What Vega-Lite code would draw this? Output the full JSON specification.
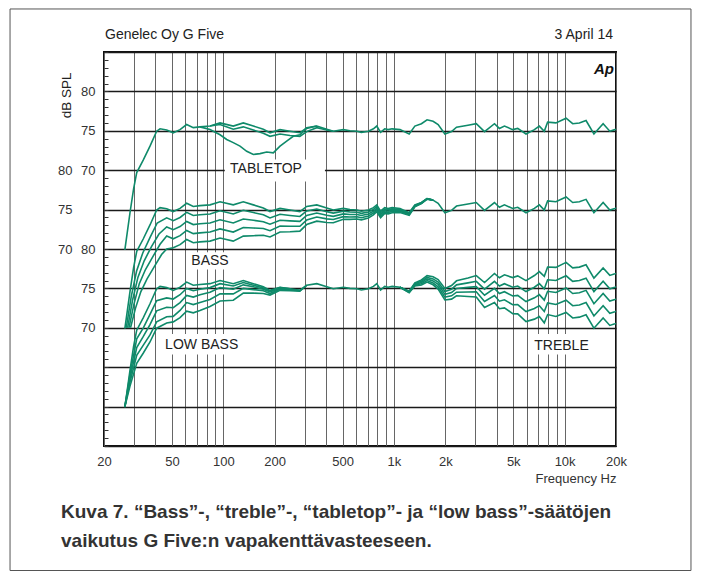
{
"$schema":"https://vega.github.io/schema/vega-lite/v6.json",
"width":512,"height":394,
"autosize":{"type":"none"},
"padding":{"left":104,"top":52,"right":85,"bottom":135},
"background":"white",
"config":{
 "font":"Liberation Sans",
 "view":{"stroke":"#111","strokeWidth":2},
 "axis":{"labelFont":"Liberation Sans","labelFontSize":13,"labelColor":"#333","titleFont":"Liberation Sans","titleFontWeight":"normal","titleColor":"#333","titleFontSize":13,"labelOverlap":false},
 "text":{"font":"Liberation Sans","color":"#222","fontSize":14},
 "line":{"color":"#0f8a6a","strokeWidth":1.6}
},
"datasets":{
"base":[{"f":26.5,"d":59.9},{"f":28.4,"d":64.6},{"f":29.8,"d":67.6},{"f":31.1,"d":69.7},{"f":34.0,"d":71.3},{"f":37.2,"d":73.05},{"f":40.7,"d":74.95},{"f":42.6,"d":75.25},{"f":46.6,"d":75.1},{"f":50.9,"d":74.75},{"f":55.8,"d":75.15},{"f":61.0,"d":75.8},{"f":66.7,"d":75.4},{"f":73.0,"d":75.5},{"f":83.6,"d":75.6},{"f":95.7,"d":76.0},{"f":114.4,"d":75.6},{"f":131,"d":76.0},{"f":150,"d":75.6},{"f":171.6,"d":75.2},{"f":187.8,"d":74.75},{"f":215,"d":75.15},{"f":246,"d":74.95},{"f":281,"d":74.75},{"f":308,"d":75.4},{"f":353,"d":75.6},{"f":404,"d":75.2},{"f":441,"d":74.95},{"f":505,"d":75.15},{"f":552,"d":75.0},{"f":607,"d":74.95},{"f":644,"d":74.8},{"f":708,"d":74.95},{"f":758,"d":75.25},{"f":793,"d":75.6},{"f":835,"d":74.8},{"f":883,"d":75.25},{"f":924,"d":75.15},{"f":975,"d":75.25},{"f":1085,"d":75.15},{"f":1228,"d":74.6},{"f":1326,"d":75.6},{"f":1449,"d":75.9},{"f":1563,"d":76.4},{"f":1695,"d":76.2},{"f":1815,"d":75.8},{"f":1988,"d":74.6},{"f":2175,"d":74.9},{"f":2326,"d":75.45},{"f":2715,"d":75.7},{"f":3036,"d":75.9},{"f":3394,"d":74.9},{"f":3881,"d":75.9},{"f":4148,"d":75.3},{"f":4440,"d":75.6},{"f":4964,"d":75.15},{"f":5310,"d":75.3},{"f":5940,"d":74.6},{"f":6650,"d":75.15},{"f":7110,"d":75.6},{"f":7600,"d":74.95},{"f":7950,"d":76.1},{"f":8890,"d":76.0},{"f":10200,"d":76.6},{"f":11150,"d":75.9},{"f":12200,"d":76.0},{"f":13350,"d":76.3},{"f":14850,"d":74.6},{"f":16810,"d":75.9},{"f":18400,"d":74.95},{"f":19700,"d":75.15},{"f":20000,"d":75.2}],
"tab":[
{"c":"t1","f":83.6,"d":75.6},{"c":"t1","f":95.7,"d":75.8},{"c":"t1","f":114.4,"d":75.2},{"c":"t1","f":131,"d":75.5},{"c":"t1","f":150,"d":75.1},{"c":"t1","f":171.6,"d":74.7},{"c":"t1","f":187.8,"d":74.3},{"c":"t1","f":215,"d":74.6},{"c":"t1","f":246,"d":74.4},{"c":"t1","f":281,"d":74.3},{"c":"t1","f":308,"d":74.9},{"c":"t1","f":353,"d":75.4},{"c":"t1","f":404,"d":75.1},{"c":"t1","f":441,"d":74.95},
{"c":"t2","f":73.0,"d":75.5},{"c":"t2","f":83.6,"d":75.16},{"c":"t2","f":95.7,"d":74.5},{"c":"t2","f":104.7,"d":73.9},{"c":"t2","f":114.4,"d":73.5},{"c":"t2","f":125.3,"d":73.05},{"c":"t2","f":137.2,"d":72.4},{"c":"t2","f":150,"d":72.0},{"c":"t2","f":164.1,"d":72.1},{"c":"t2","f":179.6,"d":72.3},{"c":"t2","f":196.4,"d":72.2},{"c":"t2","f":215,"d":73.05},{"c":"t2","f":235.2,"d":73.7},{"c":"t2","f":257,"d":74.3},{"c":"t2","f":281,"d":74.5},{"c":"t2","f":308,"d":75.3},{"c":"t2","f":353,"d":75.6}],
"bass":[
{"c":"b1","f":27,"d":60},{"c":"b1","f":28.9,"d":64.0},{"c":"b1","f":31.05,"d":67.2},{"c":"b1","f":33.75,"d":69.5},{"c":"b1","f":37.3,"d":71.5},{"c":"b1","f":41,"d":73.3},{"c":"b1","f":46.6,"d":73.95},{"c":"b1","f":50.9,"d":73.6},{"c":"b1","f":55.8,"d":74.0},{"c":"b1","f":61,"d":74.65},{"c":"b1","f":66.7,"d":74.25},{"c":"b1","f":73,"d":74.35},{"c":"b1","f":83.6,"d":74.45},{"c":"b1","f":95.7,"d":74.85},{"c":"b1","f":114.4,"d":74.45},{"c":"b1","f":131,"d":74.91},{"c":"b1","f":150,"d":74.62},{"c":"b1","f":171.6,"d":74.34},{"c":"b1","f":187.8,"d":73.94},{"c":"b1","f":215,"d":74.4},{"c":"b1","f":246,"d":74.26},{"c":"b1","f":281,"d":74.13},{"c":"b1","f":308,"d":74.83},{"c":"b1","f":353,"d":75.08},{"c":"b1","f":404,"d":74.74},{"c":"b1","f":441,"d":74.55},{"c":"b1","f":505,"d":74.8},{"c":"b1","f":552,"d":74.69},{"c":"b1","f":607,"d":74.66},{"c":"b1","f":644,"d":74.52},{"c":"b1","f":708,"d":74.7},{"c":"b1","f":758,"d":75.02},{"c":"b1","f":793,"d":75.38},{"c":"b1","f":835,"d":74.59},{"c":"b1","f":883,"d":75.07},{"c":"b1","f":924,"d":74.98},{"c":"b1","f":975,"d":75.09},{"c":"b1","f":1085,"d":75.02},{"c":"b1","f":1228,"d":74.52},{"c":"b1","f":1326,"d":75.54},{"c":"b1","f":1449,"d":75.87},{"c":"b1","f":1563,"d":76.38},{"c":"b1","f":1695,"d":76.2},
{"c":"b2","f":27.5,"d":60},{"c":"b2","f":29.4,"d":63.5},{"c":"b2","f":31.6,"d":66.4},{"c":"b2","f":34.4,"d":68.5},{"c":"b2","f":37.95,"d":70.3},{"c":"b2","f":42,"d":71.9},{"c":"b2","f":46.6,"d":72.8},{"c":"b2","f":50.9,"d":72.45},{"c":"b2","f":55.8,"d":72.85},{"c":"b2","f":61,"d":73.5},{"c":"b2","f":66.7,"d":73.1},{"c":"b2","f":73,"d":73.2},{"c":"b2","f":83.6,"d":73.3},{"c":"b2","f":95.7,"d":73.7},{"c":"b2","f":114.4,"d":73.3},{"c":"b2","f":131,"d":73.81},{"c":"b2","f":150,"d":73.64},{"c":"b2","f":171.6,"d":73.47},{"c":"b2","f":187.8,"d":73.14},{"c":"b2","f":215,"d":73.65},{"c":"b2","f":246,"d":73.57},{"c":"b2","f":281,"d":73.51},{"c":"b2","f":308,"d":74.25},{"c":"b2","f":353,"d":74.56},{"c":"b2","f":404,"d":74.28},{"c":"b2","f":441,"d":74.14},{"c":"b2","f":505,"d":74.46},{"c":"b2","f":552,"d":74.38},{"c":"b2","f":607,"d":74.37},{"c":"b2","f":644,"d":74.25},{"c":"b2","f":708,"d":74.44},{"c":"b2","f":758,"d":74.79},{"c":"b2","f":793,"d":75.16},{"c":"b2","f":835,"d":74.39},{"c":"b2","f":883,"d":74.88},{"c":"b2","f":924,"d":74.8},{"c":"b2","f":975,"d":74.93},{"c":"b2","f":1085,"d":74.9},{"c":"b2","f":1228,"d":74.44},{"c":"b2","f":1326,"d":75.48},{"c":"b2","f":1449,"d":75.83},{"c":"b2","f":1563,"d":76.37},{"c":"b2","f":1695,"d":76.2},
{"c":"b3","f":28,"d":60},{"c":"b3","f":29.96,"d":63.0},{"c":"b3","f":32.2,"d":65.6},{"c":"b3","f":35,"d":67.4},{"c":"b3","f":38.6,"d":69.0},{"c":"b3","f":42.6,"d":70.6},{"c":"b3","f":46.6,"d":71.65},{"c":"b3","f":50.9,"d":71.3},{"c":"b3","f":55.8,"d":71.7},{"c":"b3","f":61,"d":72.35},{"c":"b3","f":66.7,"d":71.95},{"c":"b3","f":73,"d":72.05},{"c":"b3","f":83.6,"d":72.15},{"c":"b3","f":95.7,"d":72.55},{"c":"b3","f":114.4,"d":72.15},{"c":"b3","f":131,"d":72.72},{"c":"b3","f":150,"d":72.67},{"c":"b3","f":171.6,"d":72.61},{"c":"b3","f":187.8,"d":72.33},{"c":"b3","f":215,"d":72.91},{"c":"b3","f":246,"d":72.88},{"c":"b3","f":281,"d":72.89},{"c":"b3","f":308,"d":73.67},{"c":"b3","f":353,"d":74.05},{"c":"b3","f":404,"d":73.82},{"c":"b3","f":441,"d":73.74},{"c":"b3","f":505,"d":74.11},{"c":"b3","f":552,"d":74.07},{"c":"b3","f":607,"d":74.09},{"c":"b3","f":644,"d":73.97},{"c":"b3","f":708,"d":74.19},{"c":"b3","f":758,"d":74.56},{"c":"b3","f":793,"d":74.94},{"c":"b3","f":835,"d":74.18},{"c":"b3","f":883,"d":74.7},{"c":"b3","f":924,"d":74.63},{"c":"b3","f":975,"d":74.77},{"c":"b3","f":1085,"d":74.77},{"c":"b3","f":1228,"d":74.36},{"c":"b3","f":1326,"d":75.43},{"c":"b3","f":1449,"d":75.8},{"c":"b3","f":1563,"d":76.35},{"c":"b3","f":1695,"d":76.2},
{"c":"b4","f":28.6,"d":60},{"c":"b4","f":30.6,"d":62.5},{"c":"b4","f":32.9,"d":64.6},{"c":"b4","f":35.75,"d":66.2},{"c":"b4","f":39.5,"d":67.8},{"c":"b4","f":43.5,"d":69.3},{"c":"b4","f":46.6,"d":70.0},{"c":"b4","f":50.9,"d":70.15},{"c":"b4","f":55.8,"d":70.55},{"c":"b4","f":61,"d":71.2},{"c":"b4","f":66.7,"d":70.8},{"c":"b4","f":73,"d":70.9},{"c":"b4","f":83.6,"d":71.0},{"c":"b4","f":95.7,"d":71.4},{"c":"b4","f":114.4,"d":71.0},{"c":"b4","f":131,"d":71.63},{"c":"b4","f":150,"d":71.69},{"c":"b4","f":171.6,"d":71.75},{"c":"b4","f":187.8,"d":71.53},{"c":"b4","f":215,"d":72.16},{"c":"b4","f":246,"d":72.19},{"c":"b4","f":281,"d":72.27},{"c":"b4","f":308,"d":73.1},{"c":"b4","f":353,"d":73.53},{"c":"b4","f":404,"d":73.36},{"c":"b4","f":441,"d":73.34},{"c":"b4","f":505,"d":73.77},{"c":"b4","f":552,"d":73.76},{"c":"b4","f":607,"d":73.8},{"c":"b4","f":644,"d":73.7},{"c":"b4","f":708,"d":73.94},{"c":"b4","f":758,"d":74.33},{"c":"b4","f":793,"d":74.73},{"c":"b4","f":835,"d":73.97},{"c":"b4","f":883,"d":74.51},{"c":"b4","f":924,"d":74.46},{"c":"b4","f":975,"d":74.61},{"c":"b4","f":1085,"d":74.64},{"c":"b4","f":1228,"d":74.28},{"c":"b4","f":1326,"d":75.37},{"c":"b4","f":1449,"d":75.76},{"c":"b4","f":1563,"d":76.33},{"c":"b4","f":1695,"d":76.2}],
"low":[
{"c":"l1","f":26.5,"d":60},{"c":"l1","f":28.4,"d":64.1},{"c":"l1","f":31.1,"d":68.6},{"c":"l1","f":34,"d":70.0},{"c":"l1","f":37.2,"d":71.7},{"c":"l1","f":40.7,"d":73.45},{"c":"l1","f":46.6,"d":73.8},{"c":"l1","f":50.9,"d":73.65},{"c":"l1","f":55.8,"d":74.2},{"c":"l1","f":61,"d":75.0},{"c":"l1","f":66.7,"d":74.7},{"c":"l1","f":73,"d":74.9},{"c":"l1","f":83.6,"d":75.1},{"c":"l1","f":95.7,"d":75.6},{"c":"l1","f":114.4,"d":75.3},{"c":"l1","f":131,"d":75.75},{"c":"l1","f":150,"d":75.4},{"c":"l1","f":171.6,"d":75.05},{"c":"l1","f":187.8,"d":74.65},{"c":"l1","f":215,"d":75.1},{"c":"l1","f":246,"d":74.95},
{"c":"l2","f":26.5,"d":60},{"c":"l2","f":28.4,"d":63.6},{"c":"l2","f":31.1,"d":67.5},{"c":"l2","f":34,"d":68.9},{"c":"l2","f":37.2,"d":70.4},{"c":"l2","f":40.7,"d":72.15},{"c":"l2","f":46.6,"d":72.6},{"c":"l2","f":50.9,"d":72.55},{"c":"l2","f":55.8,"d":73.2},{"c":"l2","f":61,"d":74.1},{"c":"l2","f":66.7,"d":73.9},{"c":"l2","f":73,"d":74.2},{"c":"l2","f":83.6,"d":74.5},{"c":"l2","f":95.7,"d":75.1},{"c":"l2","f":114.4,"d":74.9},{"c":"l2","f":131,"d":75.45},{"c":"l2","f":150,"d":75.2},{"c":"l2","f":171.6,"d":74.9},{"c":"l2","f":187.8,"d":74.55},{"c":"l2","f":215,"d":75.0},{"c":"l2","f":246,"d":74.85},{"c":"l2","f":281,"d":74.75},
{"c":"l3","f":26.5,"d":60},{"c":"l3","f":28.4,"d":63.1},{"c":"l3","f":31.1,"d":66.5},{"c":"l3","f":34,"d":67.8},{"c":"l3","f":37.2,"d":69.1},{"c":"l3","f":40.7,"d":70.75},{"c":"l3","f":46.6,"d":71.4},{"c":"l3","f":50.9,"d":71.45},{"c":"l3","f":55.8,"d":72.2},{"c":"l3","f":61,"d":73.2},{"c":"l3","f":66.7,"d":72.95},{"c":"l3","f":73,"d":73.2},{"c":"l3","f":83.6,"d":73.6},{"c":"l3","f":95.7,"d":74.3},{"c":"l3","f":114.4,"d":74.3},{"c":"l3","f":131,"d":75.0},{"c":"l3","f":150,"d":74.85},{"c":"l3","f":171.6,"d":74.7},{"c":"l3","f":187.8,"d":74.35},{"c":"l3","f":215,"d":74.9},{"c":"l3","f":246,"d":74.8},{"c":"l3","f":281,"d":74.7},{"c":"l3","f":308,"d":75.4},
{"c":"l4","f":26.5,"d":60},{"c":"l4","f":28.4,"d":62.6},{"c":"l4","f":31.1,"d":65.5},{"c":"l4","f":34,"d":66.8},{"c":"l4","f":37.2,"d":68.2},{"c":"l4","f":40.7,"d":69.95},{"c":"l4","f":46.6,"d":70.6},{"c":"l4","f":50.9,"d":70.75},{"c":"l4","f":55.8,"d":71.3},{"c":"l4","f":61,"d":72.1},{"c":"l4","f":66.7,"d":71.9},{"c":"l4","f":73,"d":72.2},{"c":"l4","f":83.6,"d":72.7},{"c":"l4","f":95.7,"d":73.4},{"c":"l4","f":114.4,"d":73.5},{"c":"l4","f":131,"d":74.4},{"c":"l4","f":150,"d":74.4},{"c":"l4","f":171.6,"d":74.35},{"c":"l4","f":187.8,"d":74.15},{"c":"l4","f":215,"d":74.75},{"c":"l4","f":246,"d":74.7},{"c":"l4","f":281,"d":74.65},{"c":"l4","f":308,"d":75.4}],
"treb":[
{"c":"r1","f":1085,"d":75.15},{"c":"r1","f":1228,"d":74.65},{"c":"r1","f":1326,"d":75.7},{"c":"r1","f":1449,"d":76.07},{"c":"r1","f":1563,"d":76.62},{"c":"r1","f":1695,"d":76.47},{"c":"r1","f":1815,"d":76.12},{"c":"r1","f":1988,"d":74.99},{"c":"r1","f":2175,"d":75.36},{"c":"r1","f":2326,"d":75.96},{"c":"r1","f":2715,"d":76.33},{"c":"r1","f":3036,"d":76.63},{"c":"r1","f":3394,"d":75.75},{"c":"r1","f":3881,"d":76.89},{"c":"r1","f":4148,"d":76.35},{"c":"r1","f":4440,"d":76.72},{"c":"r1","f":4964,"d":76.37},{"c":"r1","f":5310,"d":76.59},{"c":"r1","f":5940,"d":75.99},{"c":"r1","f":6650,"d":76.63},{"c":"r1","f":7110,"d":77.13},{"c":"r1","f":7600,"d":76.53},{"c":"r1","f":7950,"d":77.72},{"c":"r1","f":8890,"d":77.67},{"c":"r1","f":10200,"d":78.3},{"c":"r1","f":11150,"d":77.6},{"c":"r1","f":12200,"d":77.7},{"c":"r1","f":13350,"d":78.0},{"c":"r1","f":14850,"d":76.3},{"c":"r1","f":16810,"d":77.6},{"c":"r1","f":18400,"d":76.65},{"c":"r1","f":19700,"d":76.85},{"c":"r1","f":20000,"d":76.9},
{"c":"r3","f":1085,"d":75.15},{"c":"r3","f":1228,"d":74.55},{"c":"r3","f":1326,"d":75.51},{"c":"r3","f":1449,"d":75.75},{"c":"r3","f":1563,"d":76.2},{"c":"r3","f":1695,"d":75.95},{"c":"r3","f":1815,"d":75.51},{"c":"r3","f":1988,"d":74.24},{"c":"r3","f":2175,"d":74.48},{"c":"r3","f":2326,"d":74.99},{"c":"r3","f":2715,"d":75.13},{"c":"r3","f":3036,"d":75.23},{"c":"r3","f":3394,"d":74.13},{"c":"r3","f":3881,"d":75.0},{"c":"r3","f":4148,"d":74.34},{"c":"r3","f":4440,"d":74.58},{"c":"r3","f":4964,"d":74.03},{"c":"r3","f":5310,"d":74.12},{"c":"r3","f":5940,"d":73.33},{"c":"r3","f":6650,"d":73.8},{"c":"r3","f":7110,"d":74.21},{"c":"r3","f":7600,"d":73.51},{"c":"r3","f":7950,"d":74.63},{"c":"r3","f":8890,"d":74.48},{"c":"r3","f":10200,"d":75.05},{"c":"r3","f":11150,"d":74.35},{"c":"r3","f":12200,"d":74.45},{"c":"r3","f":13350,"d":74.75},{"c":"r3","f":14850,"d":73.05},{"c":"r3","f":16810,"d":74.35},{"c":"r3","f":18400,"d":73.4},{"c":"r3","f":19700,"d":73.6},{"c":"r3","f":20000,"d":73.65},
{"c":"r4","f":1085,"d":75.15},{"c":"r4","f":1228,"d":74.51},{"c":"r4","f":1326,"d":75.41},{"c":"r4","f":1449,"d":75.59},{"c":"r4","f":1563,"d":76.0},{"c":"r4","f":1695,"d":75.7},{"c":"r4","f":1815,"d":75.21},{"c":"r4","f":1988,"d":73.89},{"c":"r4","f":2175,"d":74.06},{"c":"r4","f":2326,"d":74.52},{"c":"r4","f":2715,"d":74.55},{"c":"r4","f":3036,"d":74.57},{"c":"r4","f":3394,"d":73.35},{"c":"r4","f":3881,"d":74.1},{"c":"r4","f":4148,"d":73.38},{"c":"r4","f":4440,"d":73.55},{"c":"r4","f":4964,"d":72.92},{"c":"r4","f":5310,"d":72.94},{"c":"r4","f":5940,"d":72.06},{"c":"r4","f":6650,"d":72.45},{"c":"r4","f":7110,"d":72.81},{"c":"r4","f":7600,"d":72.07},{"c":"r4","f":7950,"d":73.16},{"c":"r4","f":8890,"d":72.96},{"c":"r4","f":10200,"d":73.5},{"c":"r4","f":11150,"d":72.8},{"c":"r4","f":12200,"d":72.9},{"c":"r4","f":13350,"d":73.2},{"c":"r4","f":14850,"d":71.5},{"c":"r4","f":16810,"d":72.8},{"c":"r4","f":18400,"d":71.85},{"c":"r4","f":19700,"d":72.05},{"c":"r4","f":20000,"d":72.1},
{"c":"r5","f":1085,"d":75.15},{"c":"r5","f":1228,"d":74.46},{"c":"r5","f":1326,"d":75.32},{"c":"r5","f":1449,"d":75.44},{"c":"r5","f":1563,"d":75.8},{"c":"r5","f":1695,"d":75.46},{"c":"r5","f":1815,"d":74.92},{"c":"r5","f":1988,"d":73.53},{"c":"r5","f":2175,"d":73.64},{"c":"r5","f":2326,"d":74.06},{"c":"r5","f":2715,"d":73.98},{"c":"r5","f":3036,"d":73.9},{"c":"r5","f":3394,"d":72.58},{"c":"r5","f":3881,"d":73.2},{"c":"r5","f":4148,"d":72.42},{"c":"r5","f":4440,"d":72.53},{"c":"r5","f":4964,"d":71.8},{"c":"r5","f":5310,"d":71.77},{"c":"r5","f":5940,"d":70.79},{"c":"r5","f":6650,"d":71.1},{"c":"r5","f":7110,"d":71.42},{"c":"r5","f":7600,"d":70.63},{"c":"r5","f":7950,"d":71.68},{"c":"r5","f":8890,"d":71.44},{"c":"r5","f":10200,"d":71.95},{"c":"r5","f":11150,"d":71.25},{"c":"r5","f":12200,"d":71.35},{"c":"r5","f":13350,"d":71.65},{"c":"r5","f":14850,"d":69.95},{"c":"r5","f":16810,"d":71.25},{"c":"r5","f":18400,"d":70.3},{"c":"r5","f":19700,"d":70.5},{"c":"r5","f":20000,"d":70.55}]
},
"resolve":{"scale":{"y":"independent"},"axis":{"y":"independent"}},
"layer":[
 {"layer":[
  {"data":{"values":[{}]},"mark":{"type":"rect","fill":null,"stroke":"#555","strokeWidth":1},
   "encoding":{"x":{"datum":5.63,"type":"quantitative","scale":{"type":"log","domain":[20,20000],"nice":false}},"x2":{"datum":55000},"y":{"datum":90.46,"type":"quantitative","scale":{"domain":[35,85],"nice":false,"zero":false}},"y2":{"datum":19.2}}},
  {"data":{"values":[{}]},"mark":{"type":"rect","fill":"white","stroke":null},
   "encoding":{"x":{"datum":102,"type":"quantitative","scale":{"type":"log","domain":[20,20000],"nice":false}},"x2":{"datum":394},"y":{"datum":71.36,"type":"quantitative","scale":{"domain":[35,85],"nice":false,"zero":false}},"y2":{"datum":68.57}}},
  {"data":{"values":[{}]},"mark":{"type":"rect","fill":"white","stroke":null},
   "encoding":{"x":{"datum":62.1,"type":"quantitative","scale":{"type":"log","domain":[20,20000],"nice":false}},"x2":{"datum":112.5},"y":{"datum":59.6,"type":"quantitative","scale":{"domain":[35,85],"nice":false,"zero":false}},"y2":{"datum":57.4}}},
  {"data":{"values":[{}]},"mark":{"type":"rect","fill":"white","stroke":null},
   "encoding":{"x":{"datum":42.6,"type":"quantitative","scale":{"type":"log","domain":[20,20000],"nice":false}},"x2":{"datum":130.4},"y":{"datum":49.2,"type":"quantitative","scale":{"domain":[35,85],"nice":false,"zero":false}},"y2":{"datum":46.6}}},
  {"data":{"values":[{}]},"mark":{"type":"rect","fill":"white","stroke":null},
   "encoding":{"x":{"datum":6267,"type":"quantitative","scale":{"type":"log","domain":[20,20000],"nice":false}},"x2":{"datum":15065},"y":{"datum":49.2,"type":"quantitative","scale":{"domain":[35,85],"nice":false,"zero":false}},"y2":{"datum":46.6}}},
  {"data":{"name":"base"},"mark":{"type":"line"},
   "encoding":{
    "x":{"field":"f","type":"quantitative","scale":{"type":"log","domain":[20,20000],"nice":false},
     "axis":{"values":[20,30,40,50,60,70,80,90,100,200,300,400,500,600,700,800,900,1000,2000,3000,4000,5000,6000,7000,8000,9000,10000,20000],"tickCount":100,
      "labelExpr":"indexof([20,50,100,200,500],datum.value)>=0 ? ''+datum.value : (indexof([1000,2000,5000,10000,20000],datum.value)>=0 ? (datum.value/1000)+'k' : '')",
      "grid":true,"gridColor":"#666","gridWidth":1,
      "ticks":false,"domain":false,"labelPadding":9,"labelFlush":false,"labelOverlap":false,"labelBound":false,
      "title":"Frequency Hz","titleAnchor":"end","titlePadding":4}},
    "y":{"field":"d","type":"quantitative","scale":{"domain":[35,85],"nice":false,"zero":false},
     "axis":{"values":[35,40,45,50,55,60,65,70,75,80,85],"tickCount":100,
      "labelExpr":"(datum.value==70||datum.value==75||datum.value==80) ? ''+datum.value : ((datum.value==50||datum.value==55||datum.value==60) ? ''+(datum.value+20) : '')",
      "grid":true,"gridColor":"#1a1a1a","gridWidth":1.3,
      "ticks":false,"domain":false,"labelPadding":9,"labelFlush":false,"labelOverlap":false,"labelBound":false,"title":null}}}},
  {"data":{"name":"tab"},"mark":{"type":"line"},
   "encoding":{"x":{"field":"f","type":"quantitative","scale":{"type":"log","domain":[20,20000],"nice":false}},"y":{"field":"d","type":"quantitative","scale":{"domain":[35,85],"nice":false,"zero":false}},"detail":{"field":"c"}}},
  {"data":{"values":[{}]},"mark":{"type":"text","text":"TABLETOP","align":"center","baseline":"middle"},
   "encoding":{"x":{"datum":178,"type":"quantitative","scale":{"type":"log","domain":[20,20000],"nice":false}},"y":{"datum":70.2,"type":"quantitative","scale":{"domain":[35,85],"nice":false,"zero":false}}}},
  {"data":{"values":[{}]},"mark":{"type":"text","text":"BASS","align":"center","baseline":"middle"},
   "encoding":{"x":{"datum":83.6,"type":"quantitative","scale":{"type":"log","domain":[20,20000],"nice":false}},"y":{"datum":58.45,"type":"quantitative","scale":{"domain":[35,85],"nice":false,"zero":false}}}},
  {"data":{"values":[{}]},"mark":{"type":"text","text":"LOW BASS","align":"center","baseline":"middle"},
   "encoding":{"x":{"datum":74.7,"type":"quantitative","scale":{"type":"log","domain":[20,20000],"nice":false}},"y":{"datum":47.84,"type":"quantitative","scale":{"domain":[35,85],"nice":false,"zero":false}}}},
  {"data":{"values":[{}]},"mark":{"type":"text","text":"TREBLE","align":"center","baseline":"middle"},
   "encoding":{"x":{"datum":9588,"type":"quantitative","scale":{"type":"log","domain":[20,20000],"nice":false}},"y":{"datum":47.63,"type":"quantitative","scale":{"domain":[35,85],"nice":false,"zero":false}}}},
  {"data":{"values":[{}]},"mark":{"type":"text","text":"Genelec Oy G Five","align":"left","baseline":"middle"},
   "encoding":{"x":{"datum":20.27,"type":"quantitative","scale":{"type":"log","domain":[20,20000],"nice":false}},"y":{"datum":87.2,"type":"quantitative","scale":{"domain":[35,85],"nice":false,"zero":false}}}},
  {"data":{"values":[{}]},"mark":{"type":"text","text":"3 April 14","align":"right","baseline":"middle"},
   "encoding":{"x":{"datum":19200,"type":"quantitative","scale":{"type":"log","domain":[20,20000],"nice":false}},"y":{"datum":87.2,"type":"quantitative","scale":{"domain":[35,85],"nice":false,"zero":false}}}},
  {"data":{"values":[{}]},"mark":{"type":"text","text":"Ap","align":"right","baseline":"middle","fontWeight":"bold","fontStyle":"italic","fontSize":15,"color":"#111"},
   "encoding":{"x":{"datum":19460,"type":"quantitative","scale":{"type":"log","domain":[20,20000],"nice":false}},"y":{"datum":82.8,"type":"quantitative","scale":{"domain":[35,85],"nice":false,"zero":false}}}},
  {"data":{"values":[{}]},"mark":{"type":"text","text":"dB SPL","align":"center","baseline":"middle","angle":270,"fontSize":13.5},
   "encoding":{"x":{"datum":12.2,"type":"quantitative","scale":{"type":"log","domain":[20,20000],"nice":false}},"y":{"datum":79.5,"type":"quantitative","scale":{"domain":[35,85],"nice":false,"zero":false}}}},
  {"data":{"values":[{}]},"mark":{"type":"text","text":"Kuva 7. “Bass”-, “treble”-, “tabletop”- ja “low bass”-säätöjen","align":"left","baseline":"middle","fontWeight":"bold","fontSize":19,"color":"#333"},
   "encoding":{"x":{"datum":11.2,"type":"quantitative","scale":{"type":"log","domain":[20,20000],"nice":false}},"y":{"datum":26.62,"type":"quantitative","scale":{"domain":[35,85],"nice":false,"zero":false}}}},
  {"data":{"values":[{}]},"mark":{"type":"text","text":"vaikutus G Five:n vapakenttävasteeseen.","align":"left","baseline":"middle","fontWeight":"bold","fontSize":19,"color":"#333"},
   "encoding":{"x":{"datum":11.2,"type":"quantitative","scale":{"type":"log","domain":[20,20000],"nice":false}},"y":{"datum":22.94,"type":"quantitative","scale":{"domain":[35,85],"nice":false,"zero":false}}}}
 ]},
 {"layer":[
  {"data":{"name":"base"},"mark":{"type":"line"},
   "encoding":{"x":{"field":"f","type":"quantitative","scale":{"type":"log","domain":[20,20000],"nice":false}},
    "y":{"field":"d","type":"quantitative","scale":{"domain":[45,95],"nice":false,"zero":false},
     "axis":{"orient":"left","values":[70,75,80],"tickCount":100,"format":"d","grid":false,"ticks":false,"domain":false,"labelPadding":32,"labelFlush":false,"labelOverlap":false,"labelBound":false,"title":null}}}},
  {"data":{"name":"bass"},"mark":{"type":"line"},
   "encoding":{"x":{"field":"f","type":"quantitative","scale":{"type":"log","domain":[20,20000],"nice":false}},"y":{"field":"d","type":"quantitative","scale":{"domain":[45,95],"nice":false,"zero":false}},"detail":{"field":"c"}}}
 ]},
 {"layer":[
  {"data":{"name":"base"},"mark":{"type":"line"},
   "encoding":{"x":{"field":"f","type":"quantitative","scale":{"type":"log","domain":[20,20000],"nice":false}},
    "y":{"field":"d","type":"quantitative","scale":{"domain":[55,105],"nice":false,"zero":false},
     "axis":{"orient":"left","values":[55,56,57,58,59,60,61,62,63,64,65,66,67,68,69,70,71,72,73,74,75,76,77,78,79,80,81,82,83,84,85,86,87,88,89,90,91,92,93,94,95,96,97,98,99,100,101,102,103,104,105],"tickCount":200,"labels":false,"grid":false,"ticks":true,"tickSize":-4,"tickColor":"#333","tickWidth":1,"domain":false,"title":null}}}},
  {"data":{"name":"low"},"mark":{"type":"line"},
   "encoding":{"x":{"field":"f","type":"quantitative","scale":{"type":"log","domain":[20,20000],"nice":false}},"y":{"field":"d","type":"quantitative","scale":{"domain":[55,105],"nice":false,"zero":false}},"detail":{"field":"c"}}},
  {"data":{"name":"treb"},"mark":{"type":"line"},
   "encoding":{"x":{"field":"f","type":"quantitative","scale":{"type":"log","domain":[20,20000],"nice":false}},"y":{"field":"d","type":"quantitative","scale":{"domain":[55,105],"nice":false,"zero":false}},"detail":{"field":"c"}}}
 ]}
]
}
